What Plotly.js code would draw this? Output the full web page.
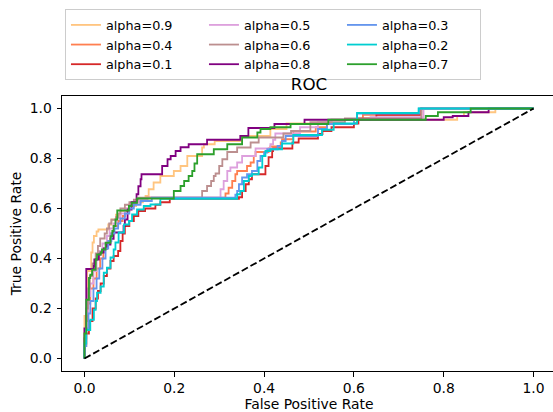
<!DOCTYPE html>
<html><head><meta charset="utf-8">
<script src="https://cdn.plot.ly/plotly-3.0.1.min.js"></script>
<style>html,body{margin:0;padding:0;overflow:hidden;background:#fff}#chart{width:556px;height:412px}</style>
</head><body><div id="chart"></div><script>
// Series labels in plotting order
const labels = ['alpha=0.9','alpha=0.4','alpha=0.1','alpha=0.5','alpha=0.6','alpha=0.8','alpha=0.3','alpha=0.2','alpha=0.7'];
const colors = ['#ffc580','#ff7f50','#d62728','#dda0dd','#bc8f8f','#800080','#6495ed','#00ced1','#2ca02c'];
// legend rank so the legend fills column by column (3 columns)
const legendRanks = [1,4,7,2,5,8,3,6,9];

// ROC step points: [FPR at which TPR jumps, new TPR]
const roc09 = [[0,0],[0,0.17],[0.006,0.35],[0.015,0.424],[0.018,0.464],[0.021,0.49],[0.027,0.508],[0.031,0.516],[0.053,0.536],[0.06,0.556],[0.07,0.575],[0.08,0.59],[0.09,0.6],[0.1,0.61],[0.115,0.625],[0.13,0.635],[0.136,0.65],[0.143,0.677],[0.154,0.704],[0.169,0.73],[0.199,0.75],[0.214,0.77],[0.229,0.81],[0.262,0.844],[0.266,0.857],[0.29,0.87],[0.35,0.89],[0.414,0.918],[0.45,0.94],[0.55,0.955],[0.83,0.97],[0.845,0.985],[0.915,1.0],[1,1]];
const roc04 = [[0,0],[0,0.06],[0.004,0.15],[0.008,0.22],[0.013,0.28],[0.02,0.32],[0.027,0.36],[0.035,0.4],[0.042,0.44],[0.05,0.47],[0.058,0.5],[0.065,0.53],[0.075,0.55],[0.085,0.57],[0.09,0.59],[0.1,0.61],[0.11,0.625],[0.125,0.635],[0.14,0.643],[0.314,0.66],[0.321,0.683],[0.329,0.71],[0.336,0.737],[0.34,0.75],[0.362,0.77],[0.37,0.784],[0.377,0.81],[0.381,0.826],[0.41,0.84],[0.414,0.848],[0.437,0.864],[0.44,0.877],[0.465,0.908],[0.515,0.925],[0.54,0.938],[0.6,0.955],[0.62,0.975],[0.75,1.0],[1,1]];
const roc01 = [[0,0],[0,0.05],[0.004,0.1],[0.01,0.15],[0.018,0.2],[0.025,0.24],[0.03,0.27],[0.036,0.3],[0.043,0.33],[0.05,0.36],[0.058,0.39],[0.065,0.41],[0.075,0.43],[0.08,0.47],[0.085,0.5],[0.09,0.53],[0.1,0.55],[0.11,0.57],[0.12,0.59],[0.135,0.6],[0.158,0.615],[0.169,0.625],[0.19,0.639],[0.344,0.645],[0.351,0.67],[0.359,0.697],[0.366,0.717],[0.373,0.737],[0.403,0.77],[0.41,0.805],[0.418,0.83],[0.42,0.84],[0.463,0.864],[0.477,0.88],[0.52,0.898],[0.53,0.91],[0.55,0.925],[0.6,0.94],[0.61,0.96],[0.65,0.975],[0.75,1.0],[1,1]];
const roc05 = [[0,0],[0,0.08],[0.004,0.18],[0.008,0.25],[0.013,0.3],[0.02,0.35],[0.027,0.4],[0.033,0.43],[0.04,0.46],[0.05,0.49],[0.056,0.52],[0.065,0.54],[0.072,0.56],[0.08,0.58],[0.09,0.6],[0.1,0.615],[0.11,0.625],[0.125,0.635],[0.14,0.643],[0.303,0.677],[0.31,0.71],[0.318,0.75],[0.325,0.764],[0.34,0.784],[0.351,0.81],[0.381,0.84],[0.414,0.857],[0.42,0.875],[0.425,0.9],[0.48,0.925],[0.52,0.945],[0.55,0.955],[0.637,0.965],[0.755,1.0],[1,1]];
const roc06 = [[0,0],[0,0.08],[0.004,0.2],[0.008,0.28],[0.012,0.33],[0.018,0.38],[0.025,0.42],[0.03,0.45],[0.035,0.48],[0.045,0.5],[0.05,0.52],[0.055,0.54],[0.06,0.555],[0.07,0.565],[0.076,0.58],[0.08,0.6],[0.09,0.615],[0.1,0.625],[0.11,0.635],[0.12,0.643],[0.262,0.67],[0.273,0.69],[0.282,0.71],[0.288,0.73],[0.292,0.74],[0.3,0.77],[0.307,0.797],[0.318,0.826],[0.34,0.844],[0.37,0.864],[0.388,0.884],[0.443,0.9],[0.46,0.91],[0.503,0.945],[0.58,0.96],[0.75,1.0],[1,1]];
const roc08 = [[0,0],[0,0.12],[0.004,0.358],[0.021,0.37],[0.022,0.396],[0.032,0.416],[0.036,0.424],[0.043,0.44],[0.05,0.456],[0.058,0.479],[0.065,0.504],[0.087,0.53],[0.09,0.556],[0.096,0.596],[0.105,0.625],[0.116,0.657],[0.12,0.689],[0.125,0.717],[0.127,0.737],[0.173,0.77],[0.185,0.797],[0.192,0.81],[0.203,0.83],[0.214,0.845],[0.232,0.857],[0.273,0.875],[0.347,0.89],[0.365,0.922],[0.423,0.938],[0.49,0.955],[0.8,0.965],[0.82,0.97],[0.855,0.985],[0.9,1.0],[1,1]];
const roc03 = [[0,0],[0,0.05],[0.004,0.12],[0.009,0.18],[0.013,0.23],[0.02,0.28],[0.027,0.32],[0.033,0.36],[0.04,0.4],[0.047,0.44],[0.053,0.47],[0.06,0.5],[0.067,0.52],[0.075,0.54],[0.08,0.56],[0.09,0.58],[0.1,0.6],[0.11,0.615],[0.125,0.63],[0.15,0.643],[0.336,0.655],[0.34,0.67],[0.344,0.697],[0.351,0.724],[0.362,0.737],[0.373,0.75],[0.385,0.79],[0.392,0.81],[0.4,0.824],[0.407,0.837],[0.43,0.85],[0.44,0.87],[0.448,0.89],[0.52,0.918],[0.54,0.938],[0.6,0.955],[0.607,0.98],[0.745,1.0],[1,1]];
const roc02 = [[0,0],[0,0.06],[0.004,0.114],[0.013,0.155],[0.021,0.195],[0.025,0.23],[0.028,0.263],[0.036,0.288],[0.043,0.343],[0.05,0.363],[0.058,0.404],[0.065,0.436],[0.069,0.464],[0.076,0.504],[0.088,0.536],[0.099,0.55],[0.106,0.576],[0.117,0.596],[0.132,0.61],[0.147,0.616],[0.169,0.639],[0.34,0.657],[0.347,0.67],[0.355,0.71],[0.366,0.73],[0.373,0.737],[0.388,0.764],[0.396,0.81],[0.403,0.83],[0.414,0.837],[0.44,0.86],[0.465,0.894],[0.529,0.915],[0.555,0.94],[0.607,0.982],[0.744,1.0],[1,1]];
const roc07 = [[0,0],[0,0.1],[0.004,0.235],[0.01,0.322],[0.013,0.335],[0.017,0.355],[0.025,0.396],[0.028,0.416],[0.036,0.424],[0.039,0.436],[0.047,0.463],[0.058,0.489],[0.062,0.51],[0.065,0.53],[0.069,0.556],[0.073,0.592],[0.099,0.61],[0.105,0.623],[0.117,0.64],[0.199,0.67],[0.214,0.69],[0.222,0.71],[0.232,0.73],[0.24,0.75],[0.245,0.78],[0.251,0.817],[0.288,0.837],[0.318,0.857],[0.351,0.884],[0.385,0.904],[0.392,0.918],[0.414,0.925],[0.459,0.938],[0.543,0.955],[0.76,0.97],[0.787,0.985],[0.86,1.0],[1,1]];
const curves = [roc09, roc04, roc01, roc05, roc06, roc08, roc03, roc02, roc07];

// chance diagonal
const diagX = [0, 1];
const diagY = [0, 1];

const tickVals = [0, 0.2, 0.4, 0.6, 0.8, 1.0];
const tickText = ['0.0', '0.2', '0.4', '0.6', '0.8', '1.0'];

const traces = curves.map((c, i) => ({
  x: c.map(p => p[0]), y: c.map(p => p[1]),
  type: 'scatter', mode: 'lines', name: labels[i], legendrank: legendRanks[i],
  line: {shape: 'hv', color: colors[i], width: 1.8}, hoverinfo: 'skip'
}));
traces.push({x: diagX, y: diagY, type: 'scatter', mode: 'lines', showlegend: false,
  line: {color: '#000', dash: '7px,3px', width: 1.8}, hoverinfo: 'skip'});

const FS = 13.9;
const axisCommon = {
  range: [-0.05, 1.05], tickvals: tickVals, ticktext: tickText,
  ticks: 'outside', ticklen: 4.5, tickwidth: 1, tickcolor: '#000',
  showline: true, mirror: true, linecolor: '#000', linewidth: 1,
  showgrid: false, zeroline: false, tickfont: {size: FS, color: '#000'}
};

const layout = {
  width: 556, height: 412,
  margin: {l: 62, r: 0, t: 96, b: 41},
  paper_bgcolor: '#fff', plot_bgcolor: '#fff',
  font: {family: 'DejaVu Sans', size: FS, color: '#000'},
  title: {text: 'ROC', font: {size: 16.7, color: '#000'}, x: 0.5, xref: 'paper', xanchor: 'center',
          y: 1, yref: 'paper', yanchor: 'bottom', pad: {b: 6}},
  xaxis: Object.assign({}, axisCommon, {
          title: {text: 'False Positive Rate', font: {size: FS}, standoff: 3}}),
  yaxis: Object.assign({}, axisCommon, {ticklabelstandoff: 2,
          title: {text: 'True Positive Rate', font: {size: FS}, standoff: 4}}),
  legend: {orientation: 'h', x: 0.006, xanchor: 'left', y: 1.316, yanchor: 'top',
           entrywidth: 93, entrywidthmode: 'pixels', bgcolor: '#fff', bordercolor: '#cccccc', borderwidth: 1,
           font: {size: 12.8, color: '#000'}},
  showlegend: true
};

Plotly.newPlot('chart', traces, layout, {staticPlot: true, displayModeBar: false});
</script></body></html>
